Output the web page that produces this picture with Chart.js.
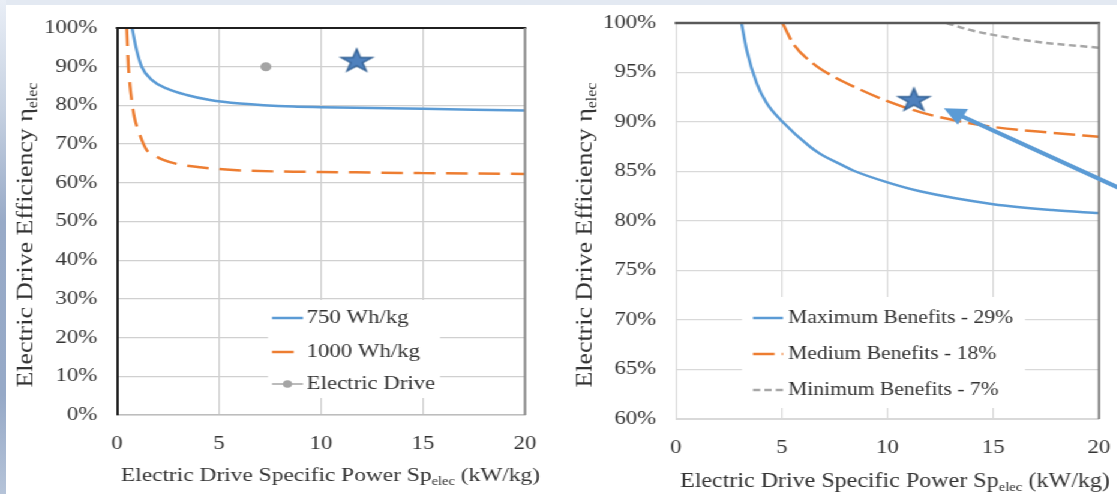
<!DOCTYPE html>
<html>
<head>
<meta charset="utf-8">
<script src="https://cdn.jsdelivr.net/npm/chart.js@4.4.1/dist/chart.umd.min.js"></script>
<style>
  html, body { margin: 0; padding: 0; }
  body { width: 1117px; height: 494px; overflow: hidden; position: relative; background: #e3e9f2; }
  #edge { position: absolute; left: 0; top: 0; width: 6px; height: 494px;
    background: linear-gradient(to bottom, #e9eef6 0%, #c6d1e1 22%, #98aac7 45%, #96a9c7 80%, #b5c3d8 100%); }
  #panel { position: absolute; left: 6px; top: 5px; right: 0; bottom: 0; background: #fff; }
  /* the source picture is stretched sideways, so the whole stage is too */
  #stage { position: absolute; left: 0; top: 0; width: 931px; height: 494px; transform: scaleX(1.2); transform-origin: 0 0; }
  #stage canvas { position: absolute; top: 0; }
</style>
</head>
<body>
<div id="edge"></div>
<div id="panel"></div>
<div id="stage">
  <canvas id="leftChart" width="465" height="494" style="left:0"></canvas>
  <canvas id="rightChart" width="466" height="494" style="left:465px"></canvas>
</div>
<script>
const FONT = '"Liberation Serif", "Times New Roman", serif';

// ticks
const powerTicks = [0, 5, 10, 15, 20];
const effTicksLeft = [0, 10, 20, 30, 40, 50, 60, 70, 80, 90, 100];
const effTicksRight = [60, 65, 70, 75, 80, 85, 90, 95, 100];

// titles (middle part is the subscript)
const xTitleParts = ['Electric Drive Specific Power Sp', 'elec', ' (kW/kg)'];
const yTitleParts = ['Electric Drive Efficiency \u03b7', 'elec', ''];

// left chart - battery specific energy cases
const wh750Power = [0.74, 0.96, 1.21, 1.7, 2.43, 3.42, 4.56, 6.03, 8.65, 10, 12.5, 15, 17.5, 20];
const wh750Eff = [100, 94.3, 90, 86.6, 84.4, 82.7, 81.4, 80.5, 79.7, 79.55, 79.35, 79.15, 78.9, 78.7];
const wh1000Power = [0.475, 0.515, 0.56, 0.64, 0.72, 0.85, 1.09, 1.45, 1.8, 2.27, 3, 4.07, 5.7, 8.15, 10, 15, 20];
const wh1000Eff = [100, 95, 90, 85, 81.4, 77, 72.8, 68.5, 67.2, 65.9, 64.8, 64, 63.3, 62.9, 62.8, 62.5, 62.3];
const drivePower = [7.3];
const driveEff = [90];
const starLeftPower = [11.75];
const starLeftEff = [91.7];

// right chart - benefit levels
const maxPower = [3.1, 3.34, 3.82, 4.29, 5, 6.34, 6.81, 7.91, 8.38, 10, 11.54, 15, 17.8, 20];
const maxEff = [100, 97.3, 93.9, 91.9, 90.1, 87.5, 86.8, 85.6, 85.1, 83.9, 83, 81.7, 81.1, 80.8];
const medPower = [5.04, 5.55, 6.49, 7.44, 8.38, 10, 11.54, 13.1, 15, 17.8, 20];
const medEff = [100, 97.9, 95.9, 94.6, 93.6, 92.1, 91.0, 90.2, 89.5, 88.9, 88.5];
const minPower = [12.8, 13.9, 15, 17.05, 20];
const minEff = [100, 99.3, 98.8, 98.1, 97.5];
const starRightPower = [11.25];
const starRightEff = [92.3];
const arrowPower = [21.5, 12.67];
const arrowEff = [82.8, 91.4];

function toXY(xs, ys) {
    return xs.map((x, i) => ({ x: x, y: ys[i] }));
}

// five point star used as point style
function makeStar() {
    const c = document.createElement('canvas');
    c.width = 32;
    c.height = 27;
    const g = c.getContext('2d');
    const R = 12.2, r = R * 0.382;
    g.translate(16, 13.5 + R * 0.095);
    g.scale(1.13, 1);
    g.beginPath();
    for (let i = 0; i < 10; i++) {
        const a = -Math.PI / 2 + i * Math.PI / 5;
        const rad = i % 2 === 0 ? R : r;
        g.lineTo(rad * Math.cos(a), rad * Math.sin(a));
    }
    g.closePath();
    g.fillStyle = '#4f81bd';
    g.fill();
    g.lineWidth = 1.2;
    g.strokeStyle = '#2d5c90';
    g.stroke();
    return c;
}
const starImg = makeStar();

function drawParts(ctx, parts, x, y, size) {
    parts.forEach((t, i) => {
        if (!t) return;
        const s = i === 1 ? size * 0.62 : size;
        ctx.font = s + 'px ' + FONT;
        ctx.fillText(t, x, i === 1 ? y + size * 0.22 : y);
        x += ctx.measureText(t).width;
    });
}

function partsWidth(ctx, parts, size) {
    let w = 0;
    parts.forEach((t, i) => {
        if (!t) return;
        ctx.font = (i === 1 ? size * 0.62 : size) + 'px ' + FONT;
        w += ctx.measureText(t).width;
    });
    return w;
}

// white legend box inside the plot, drawn over the grid but under the lines
const legendBox = {
    id: 'legendBox',
    beforeDatasetsDraw(chart, args, opts) {
        const ctx = chart.ctx;
        const L = chart.chartArea.left;
        ctx.save();
        ctx.fillStyle = '#fff';
        ctx.fillRect(L + opts.box[0], opts.box[1], opts.box[2] - opts.box[0], opts.box[3] - opts.box[1]);
        ctx.font = opts.size + 'px ' + FONT;
        ctx.textBaseline = 'middle';
        let row = 0;
        chart.data.datasets.forEach(ds => {
            if (ds.inLegend === false) return;
            const y = opts.rows[row++];
            const x0 = L + opts.sample[0], x1 = L + opts.sample[1];
            ctx.save();
            ctx.strokeStyle = ds.borderColor;
            ctx.lineWidth = ds.borderWidth;
            ctx.setLineDash(ds.borderDash || []);
            ctx.beginPath();
            ctx.moveTo(x0, y);
            ctx.lineTo(x1, y);
            ctx.stroke();
            if (ds.legendDot) {
                ctx.fillStyle = ds.pointBackgroundColor;
                ctx.beginPath();
                ctx.arc((x0 + x1) / 2, y, ds.pointRadius, 0, Math.PI * 2);
                ctx.fill();
            }
            ctx.restore();
            ctx.fillStyle = '#333';
            ctx.fillText(ds.label, L + opts.text, y);
        });
        ctx.restore();
    }
};

// top and right plot borders, plus the arrow on the right chart
const frame = {
    id: 'frame',
    afterDatasetsDraw(chart, args, opts) {
        const ctx = chart.ctx;
        const a = chart.chartArea;
        ctx.save();
        ctx.lineWidth = opts.topWidth;
        ctx.strokeStyle = opts.top;
        ctx.beginPath();
        ctx.moveTo(a.left - 1, a.top);
        ctx.lineTo(a.right + 1, a.top);
        ctx.stroke();
        ctx.lineWidth = opts.rightWidth;
        ctx.strokeStyle = opts.right;
        ctx.beginPath();
        ctx.moveTo(a.right, a.top);
        ctx.lineTo(a.right, a.bottom);
        ctx.stroke();

        if (opts.arrow) {
            const xs = chart.scales.x, ys = chart.scales.y;
            const x1 = xs.getPixelForValue(arrowPower[0]), y1 = ys.getPixelForValue(arrowEff[0]);
            const x2 = xs.getPixelForValue(arrowPower[1]), y2 = ys.getPixelForValue(arrowEff[1]);
            const ang = Math.atan2(y2 - y1, x2 - x1);
            const hl = 18, hw = 9;
            const bx = x2 - hl * Math.cos(ang), by = y2 - hl * Math.sin(ang);
            ctx.strokeStyle = '#5b9bd5';
            ctx.fillStyle = '#5b9bd5';
            ctx.lineWidth = 4;
            ctx.beginPath();
            ctx.moveTo(x1, y1);
            ctx.lineTo(bx + 2 * Math.cos(ang), by + 2 * Math.sin(ang));
            ctx.stroke();
            ctx.beginPath();
            ctx.moveTo(x2, y2);
            ctx.lineTo(bx + hw * Math.sin(ang), by - hw * Math.cos(ang));
            ctx.lineTo(bx - hw * Math.sin(ang), by + hw * Math.cos(ang));
            ctx.closePath();
            ctx.fill();
        }
        ctx.restore();
    }
};

// axis titles with the "elec" subscript
const axisTitles = {
    id: 'axisTitles',
    afterDraw(chart, args, opts) {
        const ctx = chart.ctx;
        ctx.save();
        ctx.fillStyle = '#333';
        ctx.textBaseline = 'alphabetic';
        ctx.textAlign = 'left';
        drawParts(ctx, xTitleParts, chart.chartArea.left + opts.xShift, opts.xBaseline, opts.xSize);

        ctx.translate(opts.yBaseline, opts.yCenter);
        ctx.rotate(-Math.PI / 2);
        ctx.scale(opts.yStretch, 1);
        const w = partsWidth(ctx, yTitleParts, opts.ySize);
        drawParts(ctx, yTitleParts, -w / 2, 0, opts.ySize);
        ctx.restore();
    }
};

function buildOptions(cfg) {
    return {
        responsive: false,
        animation: false,
        events: [],
        layout: { padding: { top: cfg.top, right: cfg.right, left: 0, bottom: 0 } },
        plugins: {
            legend: { display: false },
            tooltip: { enabled: false },
            legendBox: cfg.legend,
            frame: cfg.frame,
            axisTitles: cfg.titles
        },
        scales: {
            x: {
                type: 'linear',
                min: 0,
                max: 20,
                afterBuildTicks: s => { s.ticks = powerTicks.map(v => ({ value: v })); },
                afterFit: s => { s.height = cfg.xHeight; s.paddingLeft = 0; s.paddingRight = 0; },
                grid: { color: cfg.gridColor, lineWidth: 1.2, drawTicks: false },
                border: { color: cfg.bottomColor, width: cfg.bottomWidth },
                ticks: { padding: 18, color: '#333', font: { family: FONT, size: 19 } }
            },
            y: {
                type: 'linear',
                min: cfg.yTicks[0],
                max: 100,
                afterBuildTicks: s => { s.ticks = cfg.yTicks.map(v => ({ value: v })); },
                afterFit: s => { s.width = cfg.yWidth; s.paddingTop = 0; s.paddingBottom = 0; },
                grid: { color: cfg.gridColor, lineWidth: 1.3, drawTicks: false },
                border: { color: cfg.leftColor, width: cfg.leftWidth },
                ticks: { padding: 16.5, color: '#333', font: { family: FONT, size: 19 }, callback: v => v + '%' }
            }
        }
    };
}

const curve = {
    showLine: true,
    pointRadius: 0,
    borderWidth: 2.5,
    cubicInterpolationMode: 'monotone',
    fill: false
};

new Chart(document.getElementById('leftChart'), {
    type: 'scatter',
    data: {
        datasets: [
            Object.assign({}, curve, { label: '750 Wh/kg', data: toXY(wh750Power, wh750Eff), borderColor: '#5b9bd5' }),
            Object.assign({}, curve, { label: '1000 Wh/kg', data: toXY(wh1000Power, wh1000Eff), borderColor: '#ed7d31', borderDash: [18, 9] }),
            {
                label: 'Electric Drive', data: toXY(drivePower, driveEff), showLine: false,
                borderColor: '#a5a5a5', borderWidth: 1.5, pointRadius: 3.8,
                pointBackgroundColor: '#a5a5a5', pointBorderColor: '#a5a5a5', legendDot: true
            },
            {
                label: 'star', data: toXY(starLeftPower, starLeftEff), pointStyle: starImg,
                pointRadius: 12, inLegend: false, order: -1
            }
        ]
    },
    options: buildOptions({
        top: 28, right: 27.5, xHeight: 79, yWidth: 97.5,
        yTicks: effTicksLeft,
        gridColor: '#d0d0d0',
        leftColor: '#1f1f1f', leftWidth: 2,
        bottomColor: '#bdbdbd', bottomWidth: 1.5,
        frame: { top: '#1f1f1f', topWidth: 2, right: '#8c8c8c', rightWidth: 2, arrow: false },
        legend: { box: [125.8, 300, 269.2, 398], sample: [129.2, 155], text: 158.1, rows: [318, 352, 384], size: 19 },
        titles: { xShift: 3.3, xBaseline: 481, xSize: 19.5, yBaseline: 26.9, yCenter: 235, ySize: 19, yStretch: 1.36 }
    }),
    plugins: [legendBox, frame, axisTitles]
});

new Chart(document.getElementById('rightChart'), {
    type: 'scatter',
    data: {
        datasets: [
            Object.assign({}, curve, { label: 'Maximum Benefits - 29%', data: toXY(maxPower, maxEff), borderColor: '#5b9bd5' }),
            Object.assign({}, curve, { label: 'Medium Benefits - 18%', data: toXY(medPower, medEff), borderColor: '#ed7d31', borderDash: [18, 6] }),
            Object.assign({}, curve, { label: 'Minimum Benefits - 7%', data: toXY(minPower, minEff), borderColor: '#a6a6a6', borderDash: [6, 3.5] }),
            {
                label: 'star', data: toXY(starRightPower, starRightEff), pointStyle: starImg,
                pointRadius: 12, inLegend: false, order: -1
            }
        ]
    },
    options: buildOptions({
        top: 23, right: 15.2, xHeight: 75, yWidth: 98.3,
        yTicks: effTicksRight,
        gridColor: '#d9d9d9',
        leftColor: '#d9d9d9', leftWidth: 1,
        bottomColor: '#d9d9d9', bottomWidth: 1,
        frame: { top: '#595959', topWidth: 2.5, right: '#808080', rightWidth: 2, arrow: true },
        legend: { box: [55, 297, 290.9, 408], sample: [64.2, 89.2], text: 93.4, rows: [318, 354, 390], size: 18 },
        titles: { xShift: 3.4, xBaseline: 487, xSize: 20, yBaseline: 28.1, yCenter: 235, ySize: 19, yStretch: 1.36 }
    }),
    plugins: [legendBox, frame, axisTitles]
});
</script>
</body>
</html>
